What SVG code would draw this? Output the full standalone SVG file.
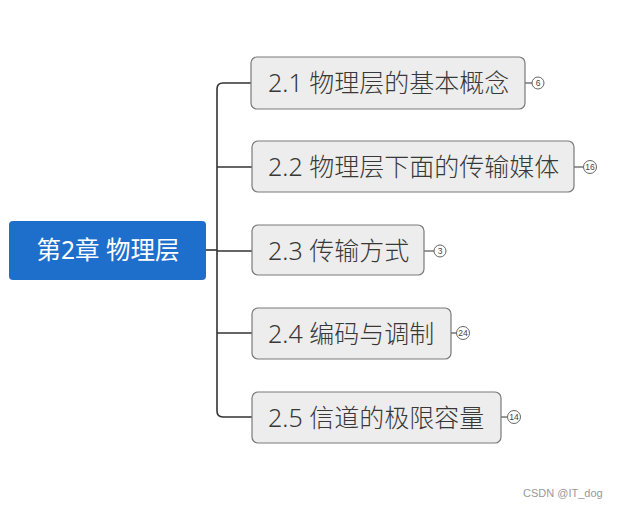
<svg xmlns="http://www.w3.org/2000/svg" width="618" height="509" viewBox="0 0 618 509">
<style>
.bg{fill:#ffffff}
.node rect{fill:#ededed;stroke:#7a7a7a;stroke-width:1.2}
.node text{font-family:"Noto Sans","Noto Sans CJK SC",sans-serif;font-size:25px;font-weight:300;fill:#383838}
.root rect{fill:#1e6fcc;stroke:none}
.root text{font-family:"Noto Sans","Noto Sans CJK SC",sans-serif;font-size:24.5px;fill:#ffffff;text-anchor:middle}
.conn path{fill:none;stroke:#333333;stroke-width:1.6}
.badge circle{fill:#ffffff;stroke:#555555;stroke-width:0.9}
.badge text{font-family:"Liberation Sans",Arial,sans-serif;font-size:8.5px;fill:#444444;text-anchor:middle}
.wm{font-family:"Liberation Sans",Arial,sans-serif;font-size:11px;fill:#999999}
</style>
<rect class="bg" x="0" y="0" width="618" height="509"/>
<g id="connectors" class="conn">
<path d="M206 250 H217"/>
<path d="M251 83 H223 Q217 83 217 89 V411 Q217 417 223 417 H252"/>
<path d="M217 167 H252"/>
<path d="M217 251 H252"/>
<path d="M217 333 H252"/>
<path d="M525 83 H532" style="stroke-width:1"/>
<path d="M574 167 H583" style="stroke-width:1"/>
<path d="M424 251 H434" style="stroke-width:1"/>
<path d="M451 333 H456" style="stroke-width:1"/>
<path d="M501 417 H507" style="stroke-width:1"/>
</g>
<g id="root" class="root">
<rect x="9" y="221" width="197" height="59" rx="4"/>
<text x="108" y="259">第2章 物理层</text>
</g>
<g id="n1" class="node">
<rect x="251" y="57" width="274" height="52" rx="6"/>
<text x="268" y="92">2.1 物理层的基本概念</text>
</g>
<g id="n2" class="node">
<rect x="252" y="141" width="322" height="51" rx="6"/>
<text x="268" y="176">2.2 物理层下面的传输媒体</text>
</g>
<g id="n3" class="node">
<rect x="252" y="225" width="172" height="50" rx="6"/>
<text x="268" y="260">2.3 传输方式</text>
</g>
<g id="n4" class="node">
<rect x="252" y="308" width="199" height="51" rx="6"/>
<text x="268" y="343">2.4 编码与调制</text>
</g>
<g id="n5" class="node">
<rect x="252" y="392" width="249" height="51" rx="6"/>
<text x="268" y="427">2.5 信道的极限容量</text>
</g>
<g id="b1" class="badge"><circle cx="538" cy="83" r="6"/><text x="538" y="86">6</text></g>
<g id="b2" class="badge"><circle cx="590" cy="167" r="6.5"/><text x="590" y="170">16</text></g>
<g id="b3" class="badge"><circle cx="440" cy="251" r="6"/><text x="440" y="254">3</text></g>
<g id="b4" class="badge"><circle cx="463" cy="333" r="6.5"/><text x="463" y="336">24</text></g>
<g id="b5" class="badge"><circle cx="514" cy="417" r="6.5"/><text x="514" y="420">14</text></g>
<text class="wm" x="523" y="497">CSDN @IT_dog</text>
</svg>
